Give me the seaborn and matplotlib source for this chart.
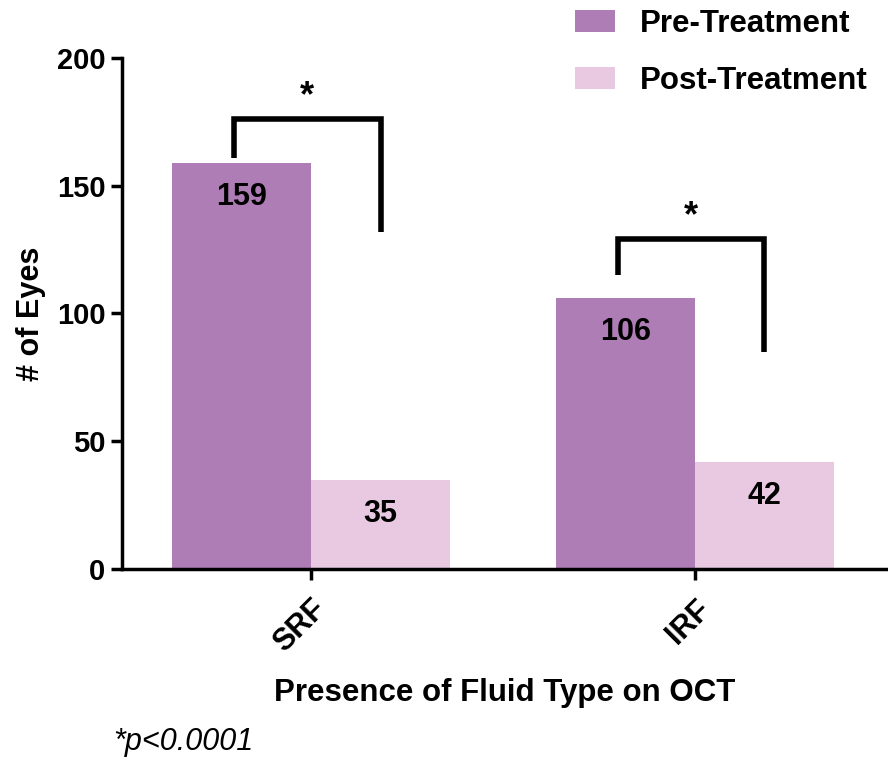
import matplotlib
matplotlib.use('Agg')
import matplotlib.pyplot as plt
from matplotlib.patches import Patch
import seaborn as sns
import pandas as pd

categories = ['SRF', 'IRF']
series = ['Pre-Treatment', 'Post-Treatment']
pre_values = [159, 106]
post_values = [35, 42]
colors = ['#AE7DB5', '#E8C9E1']
yticks = [0, 50, 100, 150, 200]
xlabel = 'Presence of Fluid Type on OCT'
ylabel = '# of Eyes'
footnote = '*p<0.0001'
# significance brackets per category: (left end, top, right end) in data units
bracket_left = [161, 115]
bracket_top = [176, 129]
bracket_right = [132, 85]
star_y = [185, 138]

df = pd.DataFrame({
    'cat': categories * 2,
    'series': [series[0]] * 2 + [series[1]] * 2,
    'value': pre_values + post_values,
})

sns.set_style('ticks')
plt.rcParams['font.family'] = ['Liberation Sans', 'DejaVu Sans']
plt.rcParams['font.weight'] = 'bold'
for k in ['text.color', 'axes.labelcolor', 'xtick.color', 'ytick.color', 'axes.edgecolor']:
    plt.rcParams[k] = 'black'

fig = plt.figure(figsize=(8.88, 7.61), dpi=100)
ax = fig.add_axes([0.1374, 0.2523, 0.8626, 0.6715])

sns.barplot(data=df, x='cat', y='value', hue='series', order=categories,
            hue_order=series, palette=colors, width=0.725, linewidth=0,
            saturation=1, ax=ax, legend=False)

ax.set_ylim(0, 200)
ax.set_xlim(-0.492, 1.503)
ax.set_yticks(yticks)
ax.set_yticklabels([str(t) for t in yticks], fontsize=21, fontweight='bold')
ax.set_xticks(range(len(categories)))
ax.set_xticklabels(categories, fontsize=22, fontweight='bold', rotation=45,
                   ha='right', rotation_mode='anchor')
ax.tick_params(axis='both', length=8, width=2.5, color='black', pad=4)
ax.tick_params(axis='x', pad=10)
for s in ['top', 'right']:
    ax.spines[s].set_visible(False)
for s in ['left', 'bottom']:
    ax.spines[s].set_linewidth(2.5)
    ax.spines[s].set_color('black')

ax.set_xlabel(xlabel, fontsize=22.5, fontweight='bold', labelpad=14)
ax.set_ylabel(ylabel, fontsize=22, fontweight='bold', labelpad=8)

# value labels inside bars
pre_c, post_c = ax.containers[0], ax.containers[1]
for cont in (pre_c, post_c):
    for p in cont.patches:
        cx = p.get_x() + p.get_width() / 2
        h = p.get_height()
        ax.annotate(f'{int(round(h))}', (cx, h), xytext=(0, -22),
                    textcoords='offset points', ha='center', va='center_baseline',
                    fontsize=22, fontweight='bold', color='black')

# brackets
for i in range(len(categories)):
    pp = pre_c.patches[i]
    qp = post_c.patches[i]
    x1 = pp.get_x() + pp.get_width() / 2 - 0.02
    x2 = qp.get_x() + qp.get_width() / 2
    ax.plot([x1, x1, x2, x2], [bracket_left[i], bracket_top[i], bracket_top[i], bracket_right[i]],
            color='black', lw=4, solid_joinstyle='miter', solid_capstyle='butt', clip_on=False)
    ax.text((x1 + x2) / 2, star_y[i], '*', ha='center', va='center',
            fontsize=26, fontweight='bold', color='black')

# legend
handles = [Patch(facecolor=c, edgecolor='none') for c in colors]
fig.legend(handles, series, loc='upper left', bbox_to_anchor=(0.6475, 0.988),
           frameon=False, prop={'size': 22.5, 'weight': 'bold'}, borderpad=0,
           borderaxespad=0, handlelength=1.28, handleheight=0.72,
           handletextpad=0.8, labelspacing=0.85)

fig.text(113 / 888, 1 - 742 / 761, footnote, fontsize=22, fontstyle='italic',
         fontweight='normal', ha='left', va='center')

fig.savefig('out.png', dpi=100)
